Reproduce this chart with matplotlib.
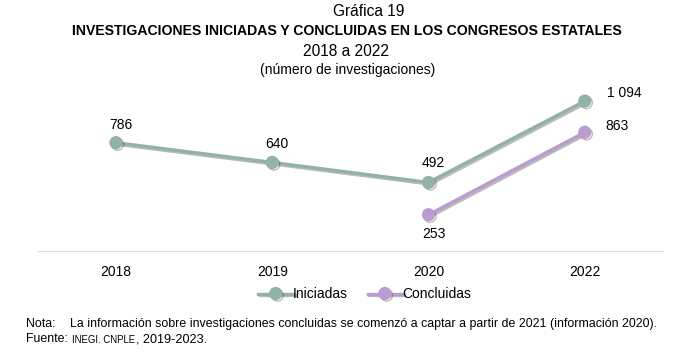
import matplotlib.pyplot as plt
import matplotlib.patheffects as pe
import numpy as np

plt.rcParams['font.family'] = ['Liberation Sans', 'DejaVu Sans']

# Data
years = ['2018', '2019', '2020', '2022']
iniciadas = [786, 640, 492, 1094]
concluidas = [np.nan, np.nan, 253, 863]
ini_labels = ['786', '640', '492', '1 094']
con_labels = ['', '', '253', '863']

green = '#91b2a5'
purple = '#b99cd0'

fig = plt.figure(figsize=(7, 3.53), dpi=100)
ax = fig.add_axes([0.054, 0.289, 0.893, 0.473])

x = np.arange(len(years))
shadow = [pe.SimpleLineShadow(offset=(1.2, -1.2), shadow_color='#3a3a3a', alpha=0.35), pe.Normal()]

ax.plot(x, iniciadas, color=green, lw=2.4, marker='o', ms=8.5, label='Iniciadas',
        path_effects=shadow, zorder=3)
ax.plot(x, concluidas, color=purple, lw=2.4, marker='o', ms=8.5, label='Concluidas',
        path_effects=shadow, zorder=3)

# value labels, offsets in pixels
px = 0.72
ini_off = [(5, 18), (5, 18), (5, 19), (40, 8)]
for i, (v, t) in enumerate(zip(iniciadas, ini_labels)):
    dx, dy = ini_off[i]
    ax.annotate(t, (x[i], v), xytext=(dx * px, dy * px), textcoords='offset points',
                ha='center', va='center', fontsize=10)
con_off = {2: (5, -19), 3: (32, 6)}
for i, (dx, dy) in con_off.items():
    ax.annotate(con_labels[i], (x[i], concluidas[i]), xytext=(dx * px, dy * px),
                textcoords='offset points', ha='center', va='center', fontsize=10)

ax.set_xlim(-0.5, 3.5)
ax.set_ylim(-15, 1220)
ax.set_xticks(x)
ax.set_xticklabels(years, fontsize=10)
ax.tick_params(axis='x', length=0, pad=10)
ax.set_yticks([])
for s in ['top', 'right', 'left']:
    ax.spines[s].set_visible(False)
ax.spines['bottom'].set_color('#d9d9d9')

ax.legend(loc='center', bbox_to_anchor=(0.523, -0.26), ncol=2, frameon=False,
          fontsize=10, handlelength=2.5, handletextpad=0.0, columnspacing=1.4)

fig.canvas.draw()
renderer = fig.canvas.get_renderer()


def fit_text(x0, x1, y, s, fs, **kw):
    # put text between pixel x0 and x1, centred on pixel row y
    t = fig.text(x0 / 700, 1 - y / 353, s, ha='left', va='center', fontsize=fs, **kw)
    w = t.get_window_extent(renderer).width
    t.set_fontsize(fs * (x1 - x0) / w)
    return t


# titles
fit_text(333, 405, 12, 'Gráfica 19', 10)
fit_text(72, 625, 31, 'INVESTIGACIONES INICIADAS Y CONCLUIDAS EN LOS CONGRESOS ESTATALES', 9,
         fontweight='bold')
fit_text(303, 390, 52, '2018 a 2022', 10)
fit_text(260, 435, 70, '(número de investigaciones)', 9)

# notes
note = fit_text(70, 658, 324, 'La información sobre investigaciones concluidas se comenzó a captar '
                'a partir de 2021 (información 2020).', 8)
nfs = note.get_fontsize()
fig.text(26 / 700, 1 - 324 / 353, 'Nota:', ha='left', va='center', fontsize=nfs)
fig.text(26 / 700, 1 - 339 / 353, 'Fuente:', ha='left', va='center', fontsize=nfs)
fit_text(72, 135, 340, 'INEGI. CNPLE', 6)
fit_text(136, 207, 339, ', 2019-2023.', 8)

fig.savefig('out.png', dpi=100)
